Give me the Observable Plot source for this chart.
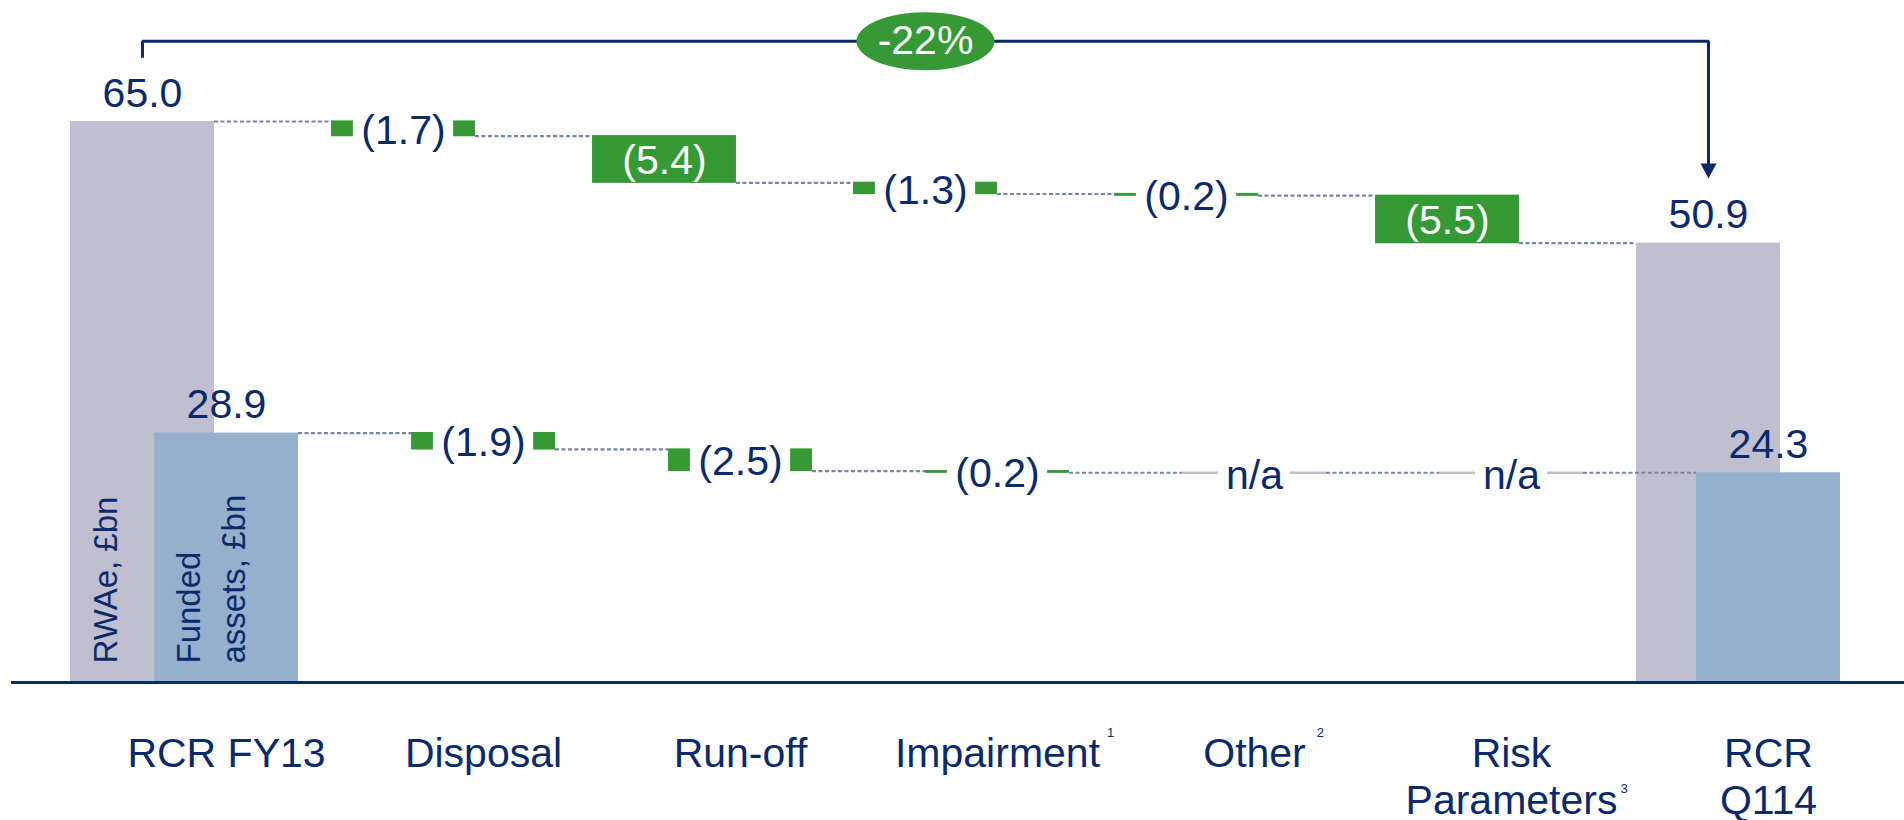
<!DOCTYPE html>
<html>
<head>
<meta charset="utf-8">
<script src="https://cdn.jsdelivr.net/npm/d3@7"></script>
<script src="https://cdn.jsdelivr.net/npm/@observablehq/plot@0.6"></script>
<style>
  html, body { margin: 0; padding: 0; background: #ffffff; }
  #chart { width: 1904px; height: 820px; }
</style>
</head>
<body>
<div id="chart"></div>
<script>
// ---------------- data ----------------
const categories = ["RCR FY13", "Disposal", "Run-off", "Impairment", "Other", "Risk\nParameters", "RCR\nQ114"];
const footnotes = ["", "", "", "1", "2", "3", ""];
const rwaeStart = 65.0;
const rwaeChanges = [-1.7, -5.4, -1.3, -0.2, -5.5];
const rwaeEnd = 50.9;
const fundedStart = 28.9;
const fundedChanges = [-1.9, -2.5, -0.2, null, null]; // null = n/a
const fundedEnd = 24.3;
const seriesLabels = ["RWAe, £bn", "Funded\nassets, £bn"];
const changeLabel = "-22%";
const naLabel = "n/a";
// annotation levels (value units) for the bracket above the bars
const bracketLevel = 74.3;
const bracketFoot = 72.4;
const arrowTip = 58.4;

// ---------------- styling / layout ----------------
const NAVY = "#0b2a6b", GREEN = "#359a35", LAV = "#c0bfd0", BLUE = "#94b0cc", DASH = "#7385ad";
const FONT = "'Liberation Sans', Arial, Helvetica, sans-serif";
const HALF = 0.28, GAP = 0.195, NA_GAP = 0.14;
const rwaeX = i => i + (-84 + 4 * i) / 257;
const fundX = i => i;
const r1 = v => Math.round(v * 10) / 10;

function build(series, start, changes, end, xf) {
  const totals = [], steps = [], nas = [], links = [];
  totals.push({series, x: xf(0), y1: 0, y2: start, value: start});
  const levels = [start];
  let level = start;
  changes.forEach((c, k) => {
    const i = k + 1;
    if (c == null) {
      nas.push({series, x: xf(i), y: level});
    } else {
      const next = r1(level + c);
      steps.push({series, x: xf(i), y1: next, y2: level, value: c, big: Math.abs(c) >= 3});
      level = next;
    }
    levels.push(level);
  });
  totals.push({series, x: xf(6), y1: 0, y2: end, value: end});
  for (let i = 0; i < 6; i++) links.push({x1: xf(i) + HALF, x2: xf(i + 1) - HALF, y: levels[i]});
  return {totals, steps, nas, links};
}

const rw = build("RWAe", rwaeStart, rwaeChanges, rwaeEnd, rwaeX);
const fa = build("Funded", fundedStart, fundedChanges, fundedEnd, fundX);
const allSteps = [...rw.steps, ...fa.steps];
const smallSteps = allSteps.filter(d => !d.big);
const bigSteps = allSteps.filter(d => d.big);
const allNas = [...rw.nas, ...fa.nas];
const fmtChange = v => `(${Math.abs(v).toFixed(1)})`;

// custom symbols
const ellipseSym = {draw(c) {
  const a = 69, b = 29, k = 0.5523;
  c.moveTo(a, 0);
  c.bezierCurveTo(a, b * k, a * k, b, 0, b);
  c.bezierCurveTo(-a * k, b, -a, b * k, -a, 0);
  c.bezierCurveTo(-a, -b * k, -a * k, -b, 0, -b);
  c.bezierCurveTo(a * k, -b, a, -b * k, a, 0);
  c.closePath();
}};
const arrowSym = {draw(c) { c.moveTo(-8, -15); c.lineTo(8, -15); c.lineTo(0, 0); c.closePath(); }};

const bx0 = rwaeX(0), bx1 = rwaeX(6), bmid = (bx0 + bx1) / 2;

// superscript footnote marks
const canvas = document.createElement("canvas");
const ctx = canvas.getContext("2d");
ctx.font = "41px 'Liberation Sans', Arial, sans-serif";
const supGap = [0, 0, 0, 7, 11, 3, 0];
const LINE_DY = 51, LINE_H = 1.15;
const supMarks = [];
footnotes.forEach((f, i) => {
  if (!f) return;
  const lines = categories[i].split("\n");
  const w = ctx.measureText(lines[lines.length - 1]).width;
  supMarks.push(Plot.text([f], {
    x: () => i, text: d => d, frameAnchor: "bottom", lineAnchor: "top", textAnchor: "start",
    dx: w / 2 + supGap[i], dy: 45 + (lines.length - 1) * 56, fontSize: 13, fill: NAVY
  }));
});

const chart = Plot.plot({
  width: 1904,
  height: 820,
  marginLeft: 97.5,
  marginRight: 7.5,
  marginTop: 121,
  marginBottom: 138,
  x: {domain: [-0.5, 6.5], axis: null},
  y: {domain: [0, 65], axis: null},
  style: {fontFamily: FONT, background: "#ffffff", overflow: "visible"},
  marks: [
    // totals
    Plot.rect(rw.totals, {x1: d => d.x - HALF, x2: d => d.x + HALF, y1: "y1", y2: "y2", fill: LAV}),
    Plot.rect(fa.totals, {x1: d => d.x - HALF, x2: d => d.x + HALF, y1: "y1", y2: "y2", fill: BLUE}),
    // steps
    Plot.rect(allSteps, {x1: d => d.x - HALF, x2: d => d.x + HALF, y1: "y1", y2: "y2", fill: GREEN, insetTop: -0.6, insetBottom: -0.6}),
    Plot.rect(smallSteps, {x1: d => d.x - GAP, x2: d => d.x + GAP, y1: d => d.y1 - 0.4, y2: d => d.y2 + 0.4, fill: "white"}),
    // n/a lines
    Plot.ruleY(allNas, {x1: d => d.x - HALF, x2: d => d.x + HALF, y: "y", stroke: LAV, strokeWidth: 2.5}),
    Plot.rect(allNas, {x1: d => d.x - NA_GAP, x2: d => d.x + NA_GAP, y1: d => d.y - 0.5, y2: d => d.y + 0.5, fill: "white"}),
    // connectors
    Plot.ruleY([...rw.links, ...fa.links], {x1: "x1", x2: "x2", y: "y", stroke: DASH, strokeWidth: 2.2, strokeDasharray: "4,2.5"}),
    // baseline
    Plot.ruleY([0], {stroke: NAVY, strokeWidth: 3, insetLeft: -86.5, insetRight: -7.5}),
    // value labels
    Plot.text([...rw.totals, ...fa.totals], {x: "x", y: "y2", text: d => d.value.toFixed(1), lineAnchor: "bottom", dy: -15, fontSize: 41, fill: NAVY}),
    Plot.text(smallSteps, {x: "x", y: d => (d.y1 + d.y2) / 2, text: d => fmtChange(d.value), lineAnchor: "middle", dy: 2, fontSize: 41, fill: NAVY}),
    Plot.text(bigSteps, {x: "x", y: d => (d.y1 + d.y2) / 2, text: d => fmtChange(d.value), lineAnchor: "middle", dy: 1, fontSize: 41, fill: "white"}),
    Plot.text(allNas, {x: "x", y: "y", text: () => naLabel, lineAnchor: "middle", dy: 3, fontSize: 41, fill: NAVY}),
    // rotated series labels
    Plot.text([seriesLabels[0]], {x: () => rwaeX(0), text: d => d, frameAnchor: "bottom", rotate: -90, textAnchor: "start", lineAnchor: "middle", dx: -36, dy: -19, fontSize: 33, fill: NAVY}),
    Plot.text([seriesLabels[1]], {x: () => fundX(0), text: d => d, frameAnchor: "bottom", rotate: -90, textAnchor: "start", lineAnchor: "middle", lineHeight: 1.36, dx: -18, dy: -19, fontSize: 33, fill: NAVY}),
    // category labels
    Plot.text(categories, {x: (d, i) => i, text: d => d, frameAnchor: "bottom", lineAnchor: "top", dy: LINE_DY, lineHeight: LINE_H, fontSize: 41, fill: NAVY}),
    ...supMarks,
    // bracket with arrow
    Plot.line([[bx0, bracketFoot], [bx0, bracketLevel], [bx1, bracketLevel], [bx1, arrowTip + 1.6]], {stroke: NAVY, strokeWidth: 3, strokeLinejoin: "miter", strokeLinecap: "butt"}),
    Plot.dot([[bx1, arrowTip]], {symbol: arrowSym, fill: NAVY}),
    Plot.dot([[bmid, bracketLevel]], {symbol: ellipseSym, fill: GREEN}),
    Plot.text([changeLabel], {x: () => bmid, y: () => bracketLevel, text: d => d, lineAnchor: "middle", fontSize: 41, fill: "white"})
  ]
});
document.getElementById("chart").appendChild(chart);
</script>
</body>
</html>
